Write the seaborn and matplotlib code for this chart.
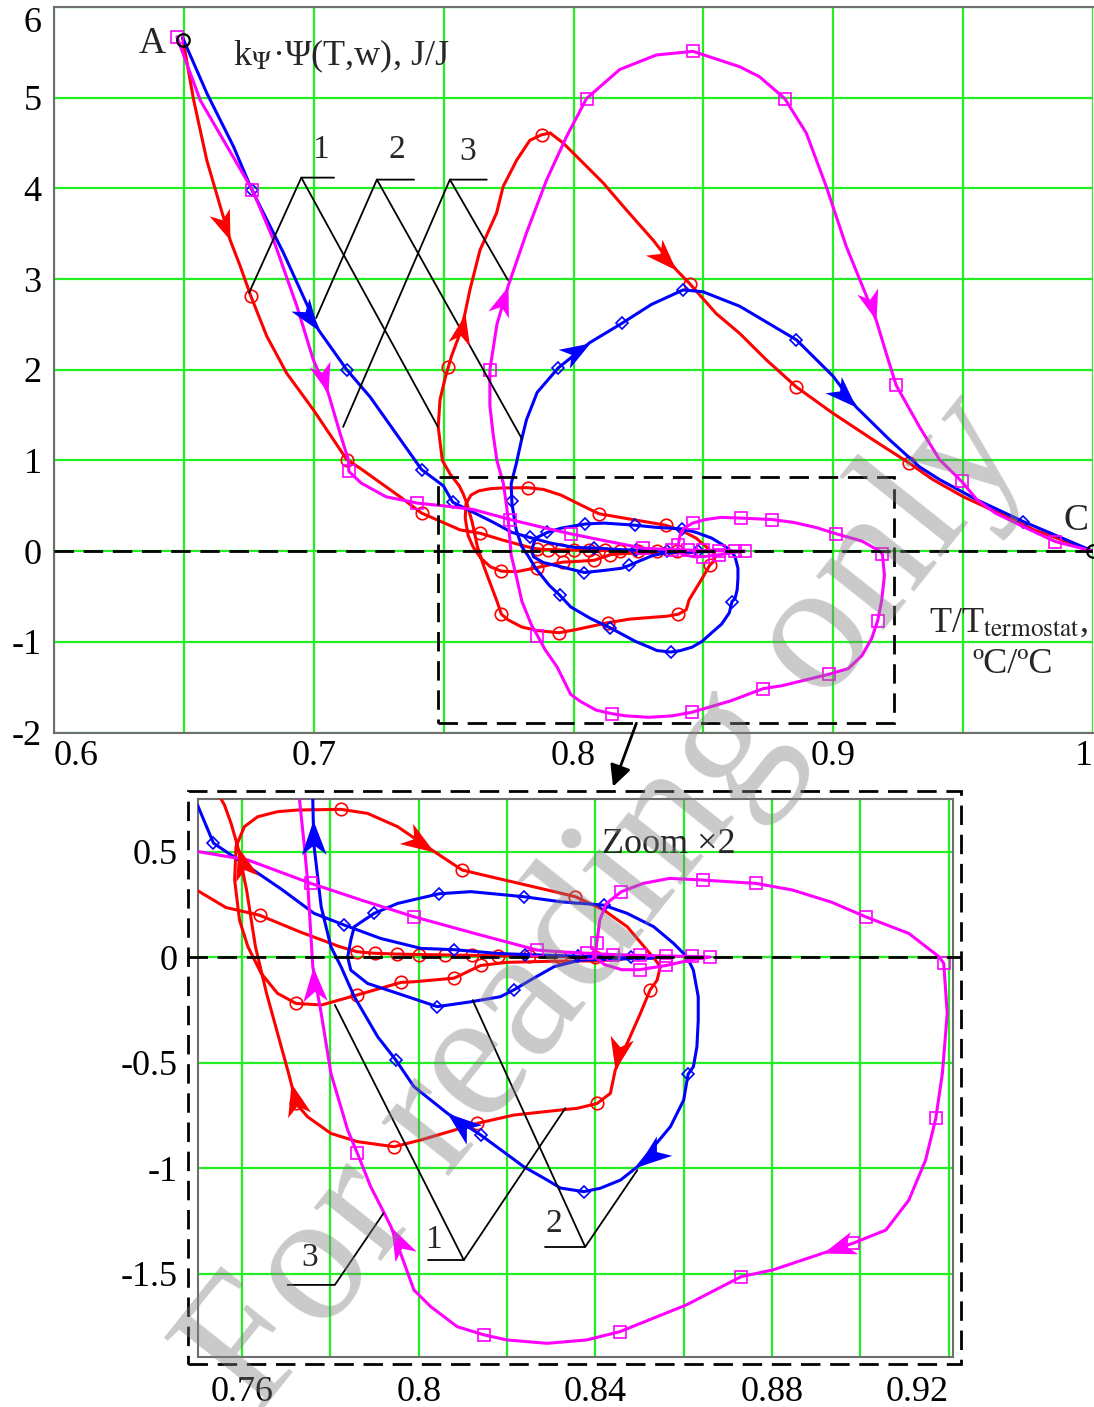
import numpy as np
import matplotlib.pyplot as plt
import seaborn as sns
from matplotlib.path import Path
from matplotlib.patches import Rectangle

sns.set_theme(style="white")
plt.rcParams["font.family"] = ["Liberation Serif", "DejaVu Serif"]
plt.rcParams["mathtext.fontset"] = "stix"

# curve 1 (red): A -> slow drift along zero -> loops -> C
red_x = [0.6495, 0.6537, 0.6588, 0.6640, 0.6678, 0.6717, 0.6758, 0.6819, 0.6896, 0.6998,
         0.7127, 0.7178, 0.7332, 0.7415, 0.7563, 0.7640, 0.7730, 0.7820,
         0.7860, 0.7900, 0.7950, 0.8000, 0.8060, 0.8120, 0.8180, 0.8250, 0.8320, 0.8400, 0.8460,
         0.8400, 0.8300, 0.8200, 0.8140, 0.8080, 0.7990, 0.7960, 0.7860, 0.7780, 0.7722,
         0.7680, 0.7643, 0.7613, 0.7594, 0.7583, 0.7586, 0.7605, 0.7635, 0.7680, 0.7726,
         0.7824, 0.7884, 0.7952, 0.8035, 0.8087, 0.8099, 0.8178, 0.8291, 0.8355, 0.8419,
         0.8472, 0.8517, 0.8536, 0.8547, 0.8540, 0.8524, 0.8502, 0.8472, 0.8445, 0.8434,
         0.8404, 0.8359, 0.8321, 0.8215, 0.8133, 0.8005, 0.7944, 0.7861, 0.7801, 0.7748,
         0.7722, 0.7711, 0.7705, 0.7680, 0.7655, 0.7630, 0.7610, 0.7590, 0.7575, 0.7560,
         0.7525, 0.7495, 0.7479, 0.7486, 0.7505, 0.7530, 0.7563, 0.7582, 0.7601, 0.7640,
         0.7704, 0.7729, 0.7781, 0.7832, 0.7877, 0.7910, 0.7960, 0.8037, 0.8114, 0.8204,
         0.8306, 0.8396, 0.8447, 0.8549, 0.8640, 0.8742, 0.8858, 0.8999, 0.9152, 0.9293,
         0.9383, 0.9501, 0.9637, 0.9773, 1.0000]
red_y = [5.66, 4.98, 4.31, 3.80, 3.43, 3.14, 2.81, 2.37, 1.96, 1.56,
         1.01, 0.915, 0.60, 0.42, 0.235, 0.198, 0.12, 0.05,
         0.025, 0.018, 0.014, 0.012, 0.010, 0.008, 0.006, 0.004, 0.002, -0.002, -0.010,
         -0.018, -0.020, -0.025, -0.040, -0.100, -0.117, -0.120, -0.180, -0.227, -0.220,
         -0.172, -0.077, 0.049, 0.175, 0.365, 0.523, 0.618, 0.665, 0.689, 0.697,
         0.700, 0.681, 0.618, 0.500, 0.428, 0.412, 0.373, 0.318, 0.286, 0.223,
         0.144, 0.033, -0.014, -0.046, -0.109, -0.156, -0.267, -0.409, -0.536, -0.646,
         -0.694, -0.717, -0.725, -0.749, -0.788, -0.867, -0.899, -0.875, -0.836, -0.757,
         -0.694, -0.599, -0.550, -0.360, -0.170, 0.050, 0.318, 0.523, 0.633, 0.720,
         0.850, 1.000, 1.370, 1.670, 1.900, 2.150, 2.400, 2.620, 2.880, 3.320,
         3.730, 4.020, 4.310, 4.530, 4.590, 4.610, 4.500, 4.280, 4.060, 3.760,
         3.430, 3.100, 2.950, 2.620, 2.400, 2.110, 1.810, 1.520, 1.230, 0.970,
         0.790, 0.600, 0.420, 0.235, 0.000]
red_mark_x = [0.6758, 0.7127, 0.7415, 0.7640, 0.7860, 0.7900, 0.7950, 0.8000, 0.8060, 0.8120,
              0.8180, 0.8250, 0.8320, 0.8400, 0.8140, 0.8080, 0.7960, 0.7860, 0.7722, 0.7824,
              0.8099, 0.8355, 0.8524, 0.8404, 0.8133, 0.7944, 0.7722, 0.7518, 0.7877, 0.8447,
              0.8858, 0.9293]
red_mark_y = [2.81, 1.01, 0.42, 0.198, 0.025, 0.018, 0.014, 0.012, 0.010, 0.008,
              0.006, 0.004, 0.002, -0.002, -0.040, -0.100, -0.120, -0.180, -0.220, 0.700,
              0.412, 0.286, -0.156, -0.694, -0.788, -0.899, -0.694, 2.03, 4.59, 2.95,
              1.81, 0.97]
red_arrows_top = [(0.6678, 3.43), (0.7582, 2.62), (0.8396, 3.10)]
red_arrows_zoom = [(0.8035, 0.500), (0.8445, -0.536), (0.7711, -0.599), (0.7590, 0.523)]

# curve 2 (blue)
blue_x = [0.6495, 0.6588, 0.6691, 0.6762, 0.6883, 0.7018, 0.7127, 0.7217, 0.7306, 0.7415,
          0.7499, 0.7535, 0.7620, 0.7690, 0.7763, 0.7831, 0.7914, 0.8005, 0.8080, 0.8180,
          0.8240, 0.8300, 0.8360, 0.8420, 0.8480, 0.8530, 0.8450, 0.8366, 0.8306, 0.8253,
          0.8215, 0.8185, 0.8118, 0.8042, 0.7952, 0.7884, 0.7846, 0.7839, 0.7846, 0.7854,
          0.7899, 0.7952, 0.8046, 0.8118, 0.8238, 0.8321, 0.8419, 0.8472, 0.8532, 0.8577,
          0.8607, 0.8622, 0.8633, 0.8633, 0.8630, 0.8622, 0.8610, 0.8600, 0.8570, 0.8532,
          0.8495, 0.8457, 0.8411, 0.8374, 0.8321, 0.8291, 0.8238, 0.8140, 0.8065, 0.7989,
          0.7948, 0.7907, 0.7854, 0.7824, 0.7801, 0.7779, 0.7763, 0.7761, 0.7760, 0.7780,
          0.7800, 0.7819, 0.7860, 0.7941, 0.8063, 0.8185, 0.8300, 0.8422, 0.8498, 0.8640,
          0.8858, 0.8999, 0.9088, 0.9216, 0.9332, 0.9409, 0.9554, 0.9732, 1.0000]
blue_y = [5.66, 5.05, 4.46, 3.98, 3.29, 2.44, 2.00, 1.70, 1.34, 0.90,
          0.72, 0.54, 0.42, 0.32, 0.207, 0.152, 0.088, 0.041, 0.035, 0.017,
          0.012, 0.008, 0.004, 0.002, 0.000, -0.004, -0.010, -0.014, -0.046, -0.109,
          -0.156, -0.188, -0.212, -0.235, -0.172, -0.125, -0.062, 0.000, 0.080, 0.144,
          0.207, 0.254, 0.300, 0.310, 0.286, 0.262, 0.246, 0.207, 0.144, 0.065,
          0.002, -0.062, -0.188, -0.300, -0.425, -0.520, -0.555, -0.678, -0.804, -0.899,
          -0.994, -1.057, -1.096, -1.112, -1.095, -1.057, -0.994, -0.843, -0.741, -0.614,
          -0.488, -0.378, -0.188, -0.046, 0.049, 0.238, 0.523, 0.650, 0.744, 0.970,
          1.230, 1.450, 1.750, 2.020, 2.300, 2.510, 2.720, 2.880, 2.860, 2.700,
          2.330, 1.930, 1.590, 1.230, 0.930, 0.790, 0.565, 0.326, 0.000]
blue_mark_x = [0.6762, 0.7127, 0.7415, 0.7535, 0.7831, 0.8080, 0.8240, 0.8360, 0.8480, 0.8215,
               0.8042, 0.7899, 0.8046, 0.8238, 0.8419, 0.8610, 0.8374, 0.8140, 0.7948, 0.7762,
               0.7941, 0.8185, 0.8422, 0.8858, 0.9732]
blue_mark_y = [3.98, 2.00, 0.90, 0.54, 0.152, 0.035, 0.012, 0.004, 0.000, -0.156,
               -0.235, 0.207, 0.300, 0.286, 0.246, -0.555, -1.112, -0.843, -0.488, 0.55,
               2.02, 2.51, 2.88, 2.33, 0.326]
blue_arrows_top = [(0.7018, 2.44), (0.8063, 2.30), (0.9088, 1.59)]
blue_arrows_zoom = [(0.7761, 0.650), (0.8065, -0.741), (0.8495, -0.994)]

# curve 3 (magenta)
mag_x = [0.6473, 0.6563, 0.6764, 0.6845, 0.6935, 0.6998, 0.7056, 0.7101, 0.7133, 0.7135,
         0.7183, 0.7278, 0.7399, 0.7500, 0.7613, 0.7756, 0.7870, 0.7989, 0.8130, 0.8268,
         0.8320, 0.8380, 0.8440, 0.8500, 0.8560, 0.8620, 0.8660, 0.8620, 0.8560, 0.8500,
         0.8460, 0.8420, 0.8400, 0.8403, 0.8410, 0.8425, 0.8459, 0.8508, 0.8568, 0.8643,
         0.8764, 0.8846, 0.8935, 0.9012, 0.9110, 0.9178, 0.9189, 0.9197, 0.9186, 0.9171,
         0.9148, 0.9110, 0.9058, 0.8983, 0.8915, 0.8802, 0.8730, 0.8606, 0.8455, 0.8380,
         0.8291, 0.8200, 0.8148, 0.8087, 0.8027, 0.7989, 0.7937, 0.7922, 0.7891, 0.7861,
         0.7839, 0.7801, 0.7779, 0.7760, 0.7748, 0.7741, 0.7730, 0.7705, 0.7690, 0.7678,
         0.7678, 0.7705, 0.7748, 0.7819, 0.7896, 0.7973, 0.8050, 0.8178, 0.8319, 0.8460,
         0.8640, 0.8716, 0.8813, 0.8896, 0.8973, 0.9050, 0.9165, 0.9204, 0.9242, 0.9332,
         0.9409, 0.9494, 0.9554, 0.9624, 0.9732, 0.9855, 1.0000]
mag_y = [5.67, 4.97, 3.98, 3.43, 2.70, 2.11, 1.74, 1.30, 1.01, 0.88,
         0.75, 0.60, 0.53, 0.50, 0.46, 0.349, 0.270, 0.191, 0.110, 0.033,
         0.025, 0.018, 0.012, 0.008, 0.005, 0.003, 0.000, -0.012, -0.040, -0.060,
         -0.060, -0.035, 0.000, 0.065, 0.175, 0.254, 0.310, 0.349, 0.373, 0.365,
         0.349, 0.318, 0.260, 0.191, 0.112, 0.002, -0.030, -0.267, -0.551, -0.765,
         -0.962, -1.152, -1.294, -1.357, -1.404, -1.483, -1.515, -1.649, -1.776, -1.815,
         -1.831, -1.815, -1.791, -1.752, -1.657, -1.578, -1.278, -1.215, -1.088, -0.930,
         -0.820, -0.551, -0.267, -0.046, 0.365, 0.523, 0.744, 1.000, 1.300, 1.600,
         2.000, 2.500, 2.920, 3.510, 4.090, 4.570, 4.990, 5.310, 5.470, 5.510,
         5.340, 5.230, 4.990, 4.610, 4.020, 3.360, 2.550, 2.180, 1.830, 1.370,
         1.010, 0.770, 0.565, 0.420, 0.270, 0.106, 0.000]
mag_mark_x = [0.6473, 0.6764, 0.7135, 0.7399, 0.7756, 0.7989, 0.8268, 0.8380, 0.8440, 0.8500,
              0.8560, 0.8620, 0.8660, 0.8560, 0.8500, 0.8403, 0.8459, 0.8643, 0.8764, 0.9012,
              0.9189, 0.9171, 0.8983, 0.8730, 0.8455, 0.8148, 0.7861, 0.7678, 0.8050, 0.8460,
              0.8813, 0.9242, 0.9494, 0.9855]
mag_mark_y = [5.67, 3.98, 0.88, 0.53, 0.349, 0.191, 0.033, 0.018, 0.012, 0.008,
              0.005, 0.003, 0.000, -0.040, -0.060, 0.065, 0.310, 0.365, 0.349, 0.191,
              -0.030, -0.765, -1.357, -1.515, -1.776, -1.791, -0.930, 2.000, 4.990, 5.510,
              4.990, 1.830, 0.770, 0.106]
mag_arrows_top = [(0.7056, 1.74), (0.7748, 2.92), (0.9165, 2.55)]
mag_arrows_zoom = [(0.7760, -0.046), (0.7937, -1.278), (0.8915, -1.404)]

RED, BLUE, MAG = "#ff0000", "#0000ff", "#ff00ff"
GREEN = "#22ee22"
SPINE = "#6e6e6e"
DASH = (0, (7, 3.5))

curves = [
    (red_x, red_y, red_mark_x, red_mark_y, RED, "o", 9, red_arrows_top, red_arrows_zoom),
    (blue_x, blue_y, blue_mark_x, blue_mark_y, BLUE, "D", 6, blue_arrows_top, blue_arrows_zoom),
    (mag_x, mag_y, mag_mark_x, mag_mark_y, MAG, "s", 9, mag_arrows_top, mag_arrows_zoom),
]

fig = plt.figure(figsize=(10.94, 14.07), dpi=100)
ax_top = fig.add_axes([0.0494, 0.4793, 0.9497, 0.5158])
ax_zoom = fig.add_axes([0.1810, 0.0355, 0.6901, 0.3966])

ax_top.set_xlim(0.6, 1.0)
ax_top.set_ylim(-2, 6)
ax_zoom.set_xlim(0.75, 0.921)
ax_zoom.set_ylim(-1.896, 0.749)


def setup(ax, xt, xl, yt, yl, xpad, ypad, right_spine):
    ax.set_xticks(xt)
    ax.set_xticklabels(xl)
    ax.set_yticks(yt)
    ax.set_yticklabels(yl)
    ax.grid(True, color=GREEN, lw=1.6)
    ax.set_axisbelow(True)
    ax.tick_params(axis="x", length=0, pad=xpad, labelsize=26, colors="black")
    ax.tick_params(axis="y", length=0, pad=ypad, labelsize=26, colors="black")
    for name, sp in ax.spines.items():
        sp.set_color(SPINE)
        sp.set_linewidth(1.5)
    ax.spines["right"].set_visible(right_spine)


xt = np.round(np.arange(0.6, 1.001, 0.05), 2)
setup(ax_top, xt, ["0.6", "", "0.7", "", "0.8", "", "0.9", "", "1"],
      list(range(-2, 7)), ["-2", "-1", "0", "1", "2", "3", "4", "5", "6"], 5, 9, False)
labs = ax_top.get_xticklabels()
labs[0].set_ha("left")
labs[-1].set_ha("right")
ax_top.get_yticklabels()[-1].set_va("top")

xz = np.round(np.arange(0.76, 0.921, 0.02), 2)
setup(ax_zoom, xz, ["0.76", "", "0.8", "", "0.84", "", "0.88", "", "0.92"],
      [-1.5, -1.0, -0.5, 0.0, 0.5], ["-1.5", "-1", "-0.5", "0", "0.5"], 14, 15, True)
ax_zoom.get_xticklabels()[-1].set_ha("right")


def arrowhead(ax, xs, ys, pt, color, size):
    d = (np.array(xs) - pt[0]) ** 2 + ((np.array(ys) - pt[1]) / 40) ** 2
    i = int(np.argmin(d))
    i = min(i, len(xs) - 2)
    p0 = ax.transData.transform((xs[i], ys[i]))
    p1 = ax.transData.transform((xs[i + 1], ys[i + 1]))
    a = np.arctan2(p1[1] - p0[1], p1[0] - p0[0])
    dart = np.array([[0, 0], [-1, 0.36], [-0.72, 0], [-1, -0.36], [0, 0]])
    c, s = np.cos(a), np.sin(a)
    rot = dart @ np.array([[c, s], [-s, c]])
    verts = np.vstack([[[1, 1], [-1, -1]], rot])
    codes = [Path.MOVETO, Path.MOVETO, Path.MOVETO, Path.LINETO, Path.LINETO,
             Path.LINETO, Path.CLOSEPOLY]
    ax.plot(xs[i], ys[i], marker=Path(verts, codes), ms=size, color=color,
            mec=color, mew=0, ls="none", zorder=6)


for ax, key, asize in [(ax_top, 7, 46), (ax_zoom, 8, 50)]:
    for xs, ys, mx, my, col, mk, ms, at, az in curves:
        sns.lineplot(x=xs, y=ys, sort=False, estimator=None, color=col,
                     linewidth=2.2, ax=ax, zorder=3)
        ax.plot(mx, my, ls="none", marker=mk, ms=ms, mfc="none", mec=col, mew=1.2, zorder=3)
        for pt in (at if key == 7 else az):
            arrowhead(ax, xs, ys, pt, col, asize)

ax_top.axhline(0, color="black", lw=2, ls=DASH, zorder=4)

# start / end points
ax_top.plot([red_x[0], red_x[-1]], [red_y[0] - 0.03, red_y[-1]], ls="none", marker="o",
            ms=9, mfc="none", mec="black", mew=1.6, zorder=7)

# zoom window in the upper plot
ax_top.add_patch(Rectangle((0.7478, -1.89), 0.9235 - 0.7478, 0.82 + 1.89, fill=False,
                           ec="black", lw=2, ls=DASH, zorder=4))
# frame around the lower plot and its zero line
ax_zoom.add_patch(Rectangle((0.7478, -1.929), 0.9229 - 0.7478, 0.787 + 1.929, fill=False,
                            ec="black", lw=2, ls=DASH, clip_on=False, zorder=4))
ax_zoom.plot([0.7478, 0.9229], [0, 0], color="black", lw=2, ls=DASH, clip_on=False, zorder=4)
ax_top.annotate("", xy=(0.8152, -2.595), xytext=(0.8242, -1.896),
                arrowprops=dict(arrowstyle="-|>", color="black", lw=2, mutation_scale=32,
                                shrinkA=0, shrinkB=0), annotation_clip=False)

# texts in the upper plot
ax_top.text(0.6379, 5.59, "A", fontsize=27, ha="center", va="center")
ax_top.text(0.669, 5.36, r"k$_{\Psi}$·Ψ(T,w), J/J", fontsize=26, ha="left", va="baseline")
ax_top.text(0.9935, 0.335, "C", fontsize=27, ha="center", va="center")
ax_top.text(0.9983, -0.89, r"T/T$_{\mathrm{termostat}}$,", fontsize=26, ha="right", va="baseline")
ax_top.text(0.969, -1.34, "ºC/ºC", fontsize=26, ha="center", va="baseline")

# curve numbers with leader lines (upper plot)
top_leaders = [
    ("1", (0.7025, 4.42), (0.6952, 4.118), (0.7078, 4.118), (0.6751, 2.85), (0.7478, 1.37)),
    ("2", (0.7320, 4.42), (0.7243, 4.096), (0.7386, 4.096), (0.7009, 2.57), (0.7801, 1.24)),
    ("3", (0.7593, 4.40), (0.7524, 4.096), (0.7666, 4.096), (0.7113, 1.37), (0.7747, 2.99)),
]
for lab, tpos, v, h, l1, l2 in top_leaders:
    ax_top.plot([h[0], v[0], l1[0]], [h[1], v[1], l1[1]], color="black", lw=1.3, zorder=5)
    ax_top.plot([v[0], l2[0]], [v[1], l2[1]], color="black", lw=1.3, zorder=5)
    ax_top.text(tpos[0], tpos[1], lab, fontsize=24, ha="center", va="center")

# lower plot texts and leaders
ax_zoom.text(0.8415, 0.491, "Zoom ×2", fontsize=26, ha="left", va="baseline")
zoom_leaders = [
    ("3", (0.7753, -1.427), [(0.7703, -1.554), (0.7810, -1.554), (0.7920, -1.215)]),
    ("1", (0.8034, -1.341), [(0.7810, -0.227), (0.8102, -1.436), (0.8332, -0.716)]),
    ("2", (0.8305, -1.265), [(0.8122, -0.204), (0.8377, -1.374), (0.8495, -1.010)]),
]
for lab, tpos, pts in zoom_leaders:
    px, py = zip(*pts)
    ax_zoom.plot(px, py, color="black", lw=1.3, zorder=5)
    ax_zoom.text(tpos[0], tpos[1], lab, fontsize=24, ha="center", va="center")
ax_zoom.plot([0.8020, 0.8102], [-1.436, -1.436], color="black", lw=1.3, zorder=5)
ax_zoom.plot([0.8287, 0.8377], [-1.374, -1.374], color="black", lw=1.3, zorder=5)

# watermark
fig.text(0.556, 0.357, "For reading only", rotation=51.5, rotation_mode="anchor",
         ha="center", va="center", fontsize=134, color="#808080", alpha=0.42, zorder=20)

fig.savefig("out.png", dpi=100)
